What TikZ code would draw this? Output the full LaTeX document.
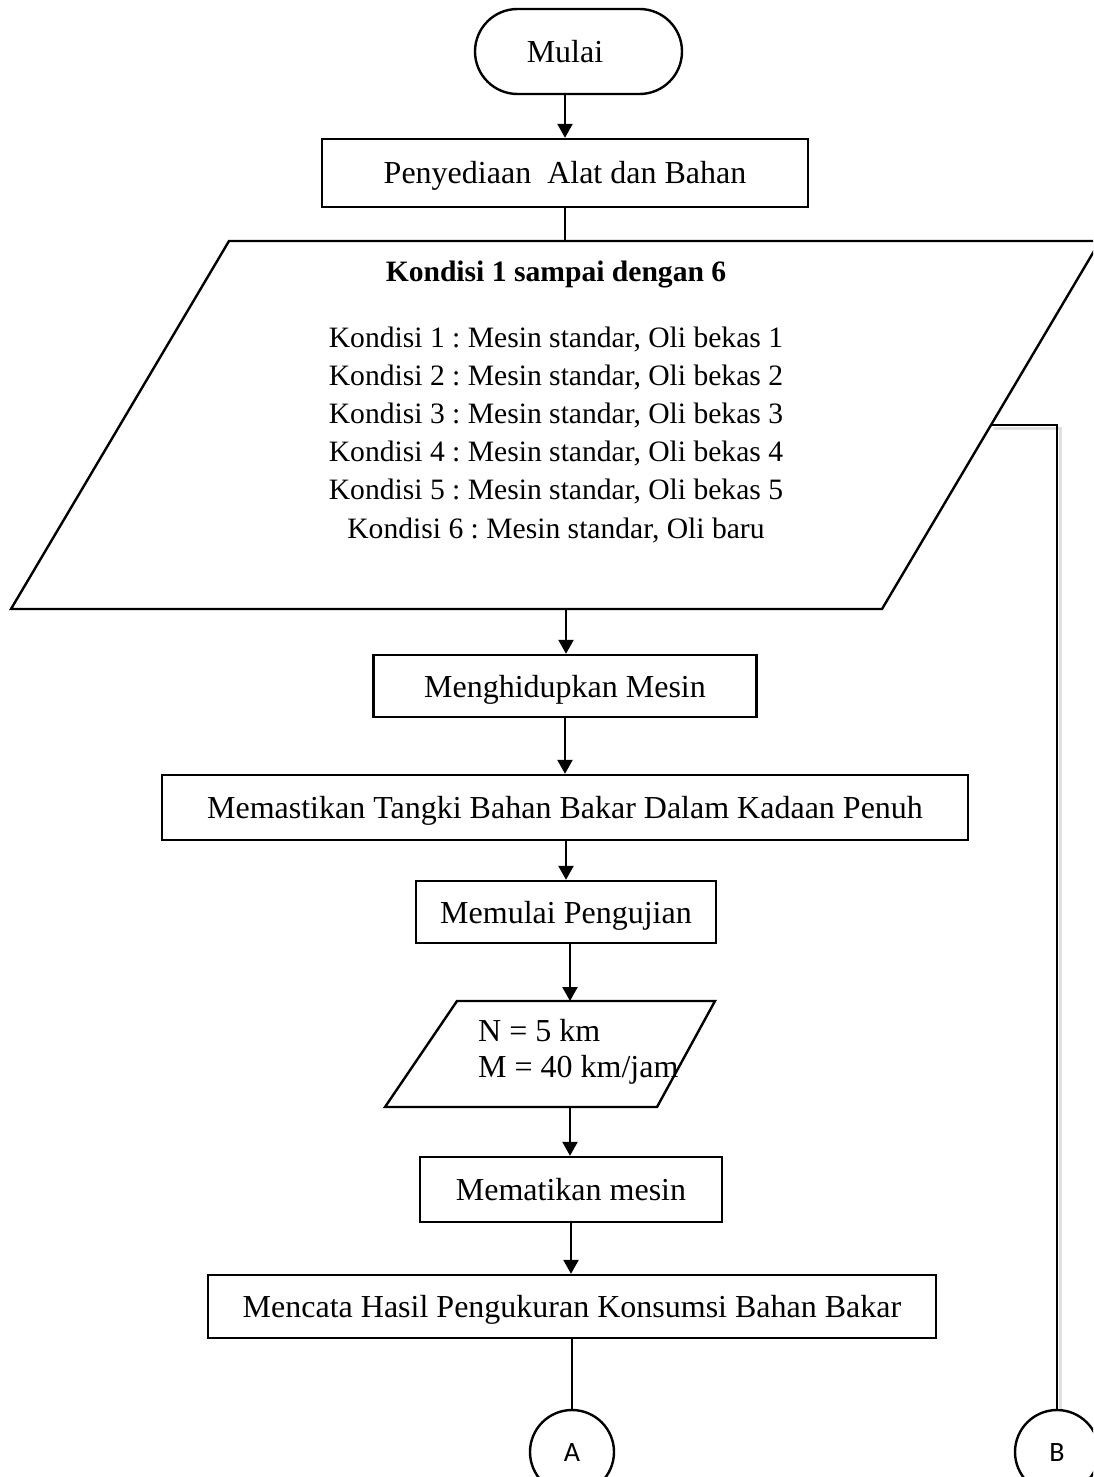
\documentclass[tikz,border=0pt]{standalone}
\usepackage{fontspec}
\setmainfont{Liberation Serif}
\newfontfamily\connfont{Carlito}
\usetikzlibrary{arrows.meta,calc}
\begin{document}
\frenchspacing
\begin{tikzpicture}[x=0.5pt,y=-0.5pt,line width=1.2pt,
  flow/.style={-{Triangle[length=7pt,width=7.5pt]}},
  procbox/.style={draw,rectangle,inner sep=0pt,text height=11pt,text depth=0pt,
    font=\fontsize{16}{19}\selectfont},
  lbl/.style={inner sep=0pt,font=\fontsize{16}{19}\selectfont},
  condline/.style={inner sep=0pt,anchor=base,font=\fontsize{14.8}{18}\selectfont},
  connector/.style={draw,circle,inner sep=0pt,minimum size=42pt,
    font=\connfont\fontsize{14}{16}\selectfont}]
\useasboundingbox (0,0) rectangle (1093,1477);
\clip (0,0) rectangle (1093,1477);

% start terminal
\node[draw,rectangle,rounded corners=21.25pt,minimum width=103.5pt,minimum height=42.5pt,inner sep=0pt] (start) at (578.5,51.5) {};
\node[lbl,text height=11pt,text depth=0pt] (startlbl) at (565,51.5) {Mulai};

% preparation
\node[procbox,minimum width=243pt,minimum height=34pt] (penyed) at (565,173) {Penyediaan\ \ Alat dan Bahan};

% input data: conditions 1 to 6
\coordinate (dTL) at (229,241);
\coordinate (dTR) at (1100,241);
\coordinate (dBR) at (882,609);
\coordinate (dBL) at (11,609);
\coordinate (dataTop) at (565,241);
\coordinate (dataBot) at (566,609);
\coordinate (dataR) at (992,425);
\draw (dTL) -- (dTR) -- (dBR) -- (dBL) -- cycle;
\node[inner sep=0pt,anchor=base,font=\bfseries\fontsize{14.8}{18}\selectfont] (ktitle) at (556,281) {Kondisi 1 sampai dengan 6};
\node[condline] (k1) at (556,347) {Kondisi 1 : Mesin standar, Oli bekas 1};
\node[condline] (k2) at (556,385) {Kondisi 2 : Mesin standar, Oli bekas 2};
\node[condline] (k3) at (556,423) {Kondisi 3 : Mesin standar, Oli bekas 3};
\node[condline] (k4) at (556,461) {Kondisi 4 : Mesin standar, Oli bekas 4};
\node[condline] (k5) at (556,499) {Kondisi 5 : Mesin standar, Oli bekas 5};
\node[condline] (k6) at (556,538) {Kondisi 6 : Mesin standar, Oli baru};

% process steps
\node[procbox,minimum width=191.5pt,minimum height=31pt] (hidup) at (565,686) {Menghidupkan Mesin};
\node[procbox,minimum width=403pt,minimum height=32.5pt] (pastikan) at (565,807.5) {Memastikan Tangki Bahan Bakar Dalam Kadaan Penuh};
\node[procbox,minimum width=150pt,minimum height=31pt] (mulai) at (566,912) {Memulai Pengujian};

% test parameters
\coordinate (pTL) at (457,1001);
\coordinate (pTR) at (715,1001);
\coordinate (pBR) at (657,1107);
\coordinate (pBL) at (385,1107);
\coordinate (nmTop) at (570,1001);
\coordinate (nmBot) at (570,1107);
\draw (pTL) -- (pTR) -- (pBR) -- (pBL) -- cycle;
\node[lbl,anchor=base west] (nline) at (477,1041) {N = 5 km};
\node[lbl,anchor=base west] (mline) at (477,1077) {M = 40 km/jam};

\node[procbox,minimum width=151pt,minimum height=32.5pt] (matikan) at (571,1189.5) {Mematikan mesin};
\node[procbox,minimum width=364pt,minimum height=31.5pt] (catat) at (572,1306.5) {Mencata Hasil Pengukuran Konsumsi Bahan Bakar};

% off-page connectors
\node[connector] (A) at (572,1452) {A};
\node[connector] (B) at (1057,1452) {B};

% flow lines
\draw[flow] (startlbl |- start.south) -- (startlbl |- penyed.north);
\draw (penyed.south) -- (penyed.south |- dataTop);
\draw[flow] (dataBot) -- (dataBot |- hidup.north);
\draw[flow] (hidup.south) -- (hidup.south |- pastikan.north);
\draw[flow] (pastikan.south -| dataBot) -- (dataBot |- mulai.north);
\draw[flow] (mulai.south -| nmTop) -- (nmTop);
\draw[flow] (nmBot) -- (nmBot |- matikan.north);
\draw[flow] (matikan.south) -- (matikan.south |- catat.north);
\draw (catat.south -| A.north) -- (A.north);
\draw[black!12,line width=1.5pt] ($(dataR)+(1.5,3.5)$) -| ($(B.north)+(3.5,0)$);
\draw (dataR) -| (B.north);
\end{tikzpicture}
\end{document}
